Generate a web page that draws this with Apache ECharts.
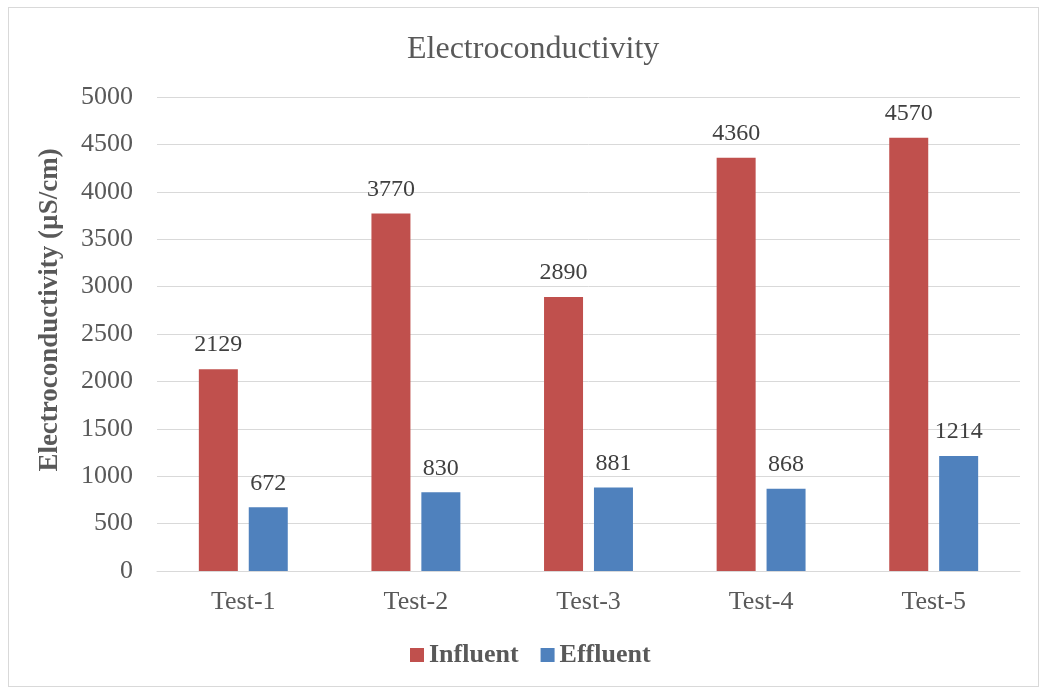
<!DOCTYPE html>
<html>
<head>
<meta charset="utf-8">
<script src="https://cdn.jsdelivr.net/npm/echarts@6/dist/echarts.min.js"></script>
<style>
  html, body { margin: 0; padding: 0; background: #fff; }
  #frame { position: absolute; left: 8px; top: 7px; width: 1031px; height: 680px; border: 1px solid #d9d9d9; box-sizing: border-box; }
  #chart { width: 1043px; height: 691px; }
</style>
</head>
<body>
<div id="frame"></div>
<div id="chart"></div>
<script>
const categories = ["Test-1", "Test-2", "Test-3", "Test-4", "Test-5"];
const influent = [2129, 3770, 2890, 4360, 4570];
const effluent = [672, 830, 881, 868, 1214];

const serif = "'Liberation Serif', 'Times New Roman', serif";
const chart = echarts.init(document.getElementById("chart"), undefined, { renderer: "canvas" });

const labelStyle = {
  show: true,
  position: "top",
  distance: 12,
  color: "#404040",
  fontFamily: serif,
  fontSize: 24,
};

chart.setOption({
  backgroundColor: "transparent",
  animation: false,
  title: {
    text: "Electroconductivity",
    left: 402,
    top: 29,
    textStyle: { fontFamily: serif, fontSize: 32, fontWeight: "normal", color: "#595959" },
  },
  grid: { top: 97, left: 157, right: 23, bottom: 120 },
  legend: {
    bottom: 18,
    left: 405,
    itemWidth: 14,
    itemHeight: 14,
    itemGap: 22,
    icon: "rect",
    textStyle: { fontFamily: serif, fontSize: 26, fontWeight: "bold", color: "#595959" },
    data: ["Influent", "Effluent"],
  },
  xAxis: {
    type: "category",
    data: categories,
    axisTick: { show: false },
    axisLine: { lineStyle: { color: "#d9d9d9", width: 1 } },
    axisLabel: { fontFamily: serif, fontSize: 26, color: "#595959", margin: 18 },
  },
  yAxis: {
    type: "value",
    min: 0,
    max: 5000,
    interval: 500,
    name: "Electroconductivity (µS/cm)",
    nameLocation: "middle",
    nameGap: 93,
    nameTextStyle: {
      fontFamily: serif,
      fontSize: 27,
      fontWeight: "bold",
      color: "#595959",
      padding: [0, 0, 0, 48],
    },
    axisLine: { show: false },
    axisTick: { show: false },
    axisLabel: {
      fontFamily: serif,
      fontSize: 26,
      color: "#595959",
      margin: 24,
      formatter: (v) => String(v),
    },
    splitLine: { lineStyle: { color: "#d9d9d9", width: 1 } },
  },
  series: [
    {
      name: "Influent",
      type: "bar",
      data: influent,
      barWidth: 39,
      barGap: "28%",
      itemStyle: { color: "#C0504D" },
      label: labelStyle,
    },
    {
      name: "Effluent",
      type: "bar",
      data: effluent,
      barWidth: 39,
      itemStyle: { color: "#4F81BD" },
      label: labelStyle,
    },
  ],
});
</script>
</body>
</html>
